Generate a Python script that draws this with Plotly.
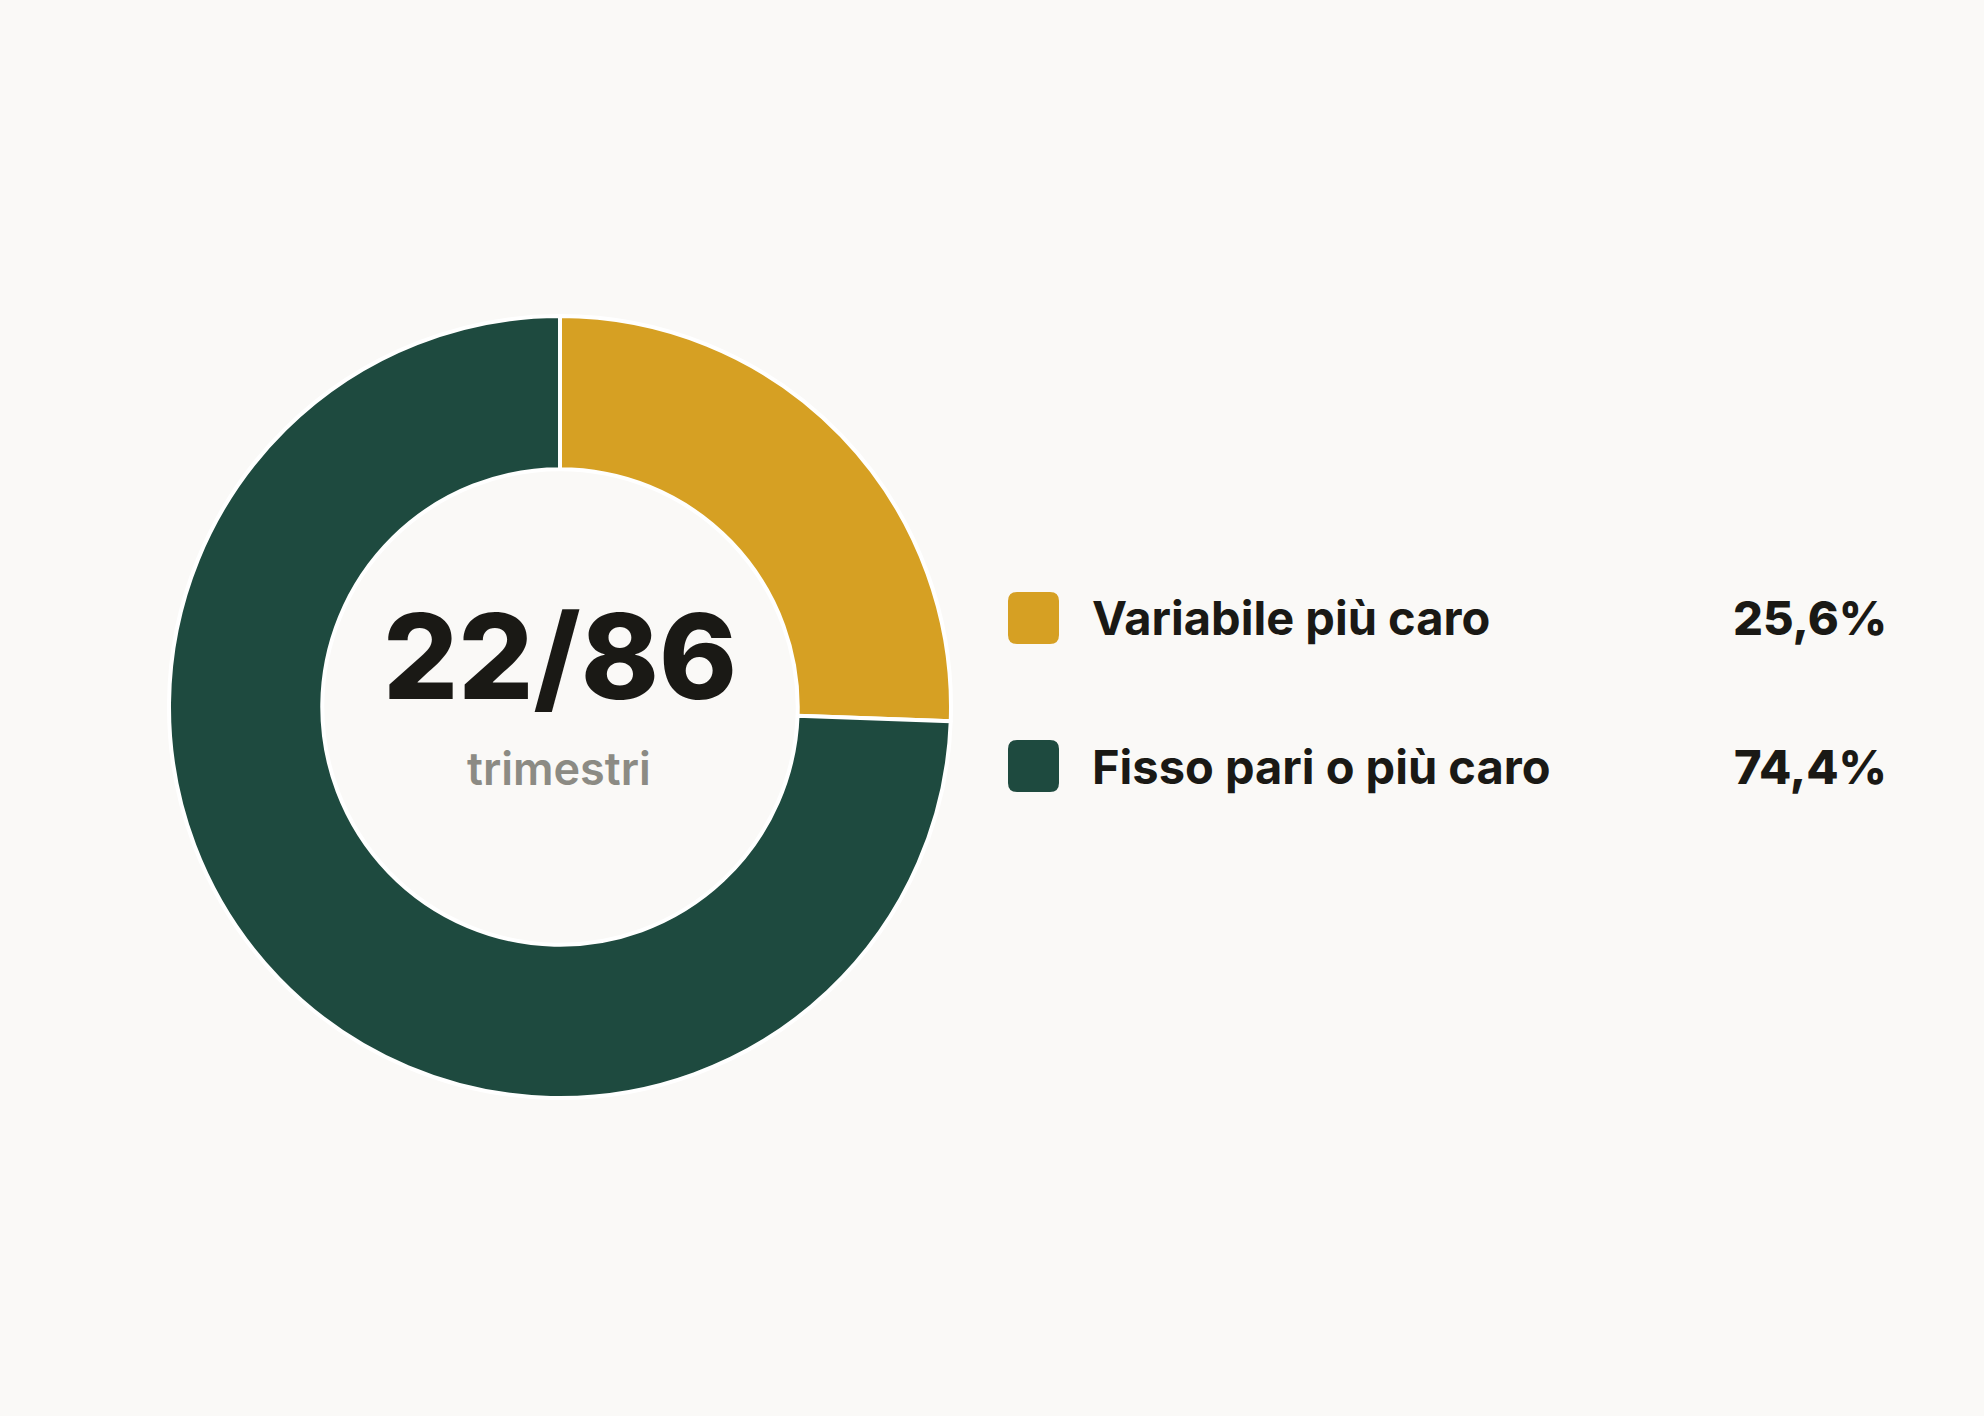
import plotly.graph_objects as go

# ---- data ----
labels = ["Variabile più caro", "Fisso pari o più caro"]
values = [22, 64]
colors = ["#D6A023", "#1E4A3F"]
center_sub = "trimestri"

W, H = 1984, 1416
BG = "#FAF9F7"
INK = "#1A1915"

total = sum(values)
pct_text = [f"{v / total * 100:.1f}%".replace(".", ",") for v in values]


def px(x):
    return x / W


def py(y):
    return 1 - y / H


fig = go.Figure()
fig.add_trace(go.Pie(
    labels=labels,
    values=values,
    hole=0.608,
    sort=False,
    direction="clockwise",
    rotation=0,
    marker=dict(colors=colors, line=dict(color="#FFFFFF", width=4)),
    textinfo="none",
    hoverinfo="none",
    showlegend=False,
    domain=dict(x=[px(169), px(951)], y=[py(1098), py(316)]),
))

annotations = [
    dict(x=px(560), y=py(656), text=f"{values[0]}/{total}", showarrow=False,
         xanchor="center", yanchor="middle",
         font=dict(family="Inter", size=118, color=INK, weight=800)),
    dict(x=px(559), y=py(768), text=center_sub, showarrow=False,
         xanchor="center", yanchor="middle",
         font=dict(family="Inter", size=45, color="#8C8B84", weight=600)),
]

shapes = []
row_y = [618, 766]
for i, lab in enumerate(labels):
    cy = row_y[i]
    x0, x1 = 1008, 1059
    y0, y1 = cy - 26, cy + 26
    r = 9
    path = (f"M {px(x0 + r)},{py(y0)} L {px(x1 - r)},{py(y0)} "
            f"Q {px(x1)},{py(y0)} {px(x1)},{py(y0 + r)} "
            f"L {px(x1)},{py(y1 - r)} Q {px(x1)},{py(y1)} {px(x1 - r)},{py(y1)} "
            f"L {px(x0 + r)},{py(y1)} Q {px(x0)},{py(y1)} {px(x0)},{py(y1 - r)} "
            f"L {px(x0)},{py(y0 + r)} Q {px(x0)},{py(y0)} {px(x0 + r)},{py(y0)} Z")
    shapes.append(dict(type="path", xref="paper", yref="paper", path=path,
                       fillcolor=colors[i], line=dict(width=0)))
    annotations.append(dict(x=px(1090), y=py(cy), text=lab, showarrow=False,
                            xanchor="left", yanchor="middle",
                            font=dict(family="Inter", size=47, color=INK, weight=700)))
    annotations.append(dict(x=px(1889), y=py(cy), text=pct_text[i], showarrow=False,
                            xanchor="right", yanchor="middle",
                            font=dict(family="Inter", size=47, color=INK, weight=800)))

fig.update_layout(
    width=W, height=H, autosize=False,
    margin=dict(l=0, r=0, t=0, b=0),
    paper_bgcolor=BG, plot_bgcolor=BG,
    annotations=annotations, shapes=shapes,
)

fig.write_html(
    "out.html",
    config={"displayModeBar": False},
    post_script="document.body.style.margin='0';document.body.style.background='#FAF9F7';",
)
